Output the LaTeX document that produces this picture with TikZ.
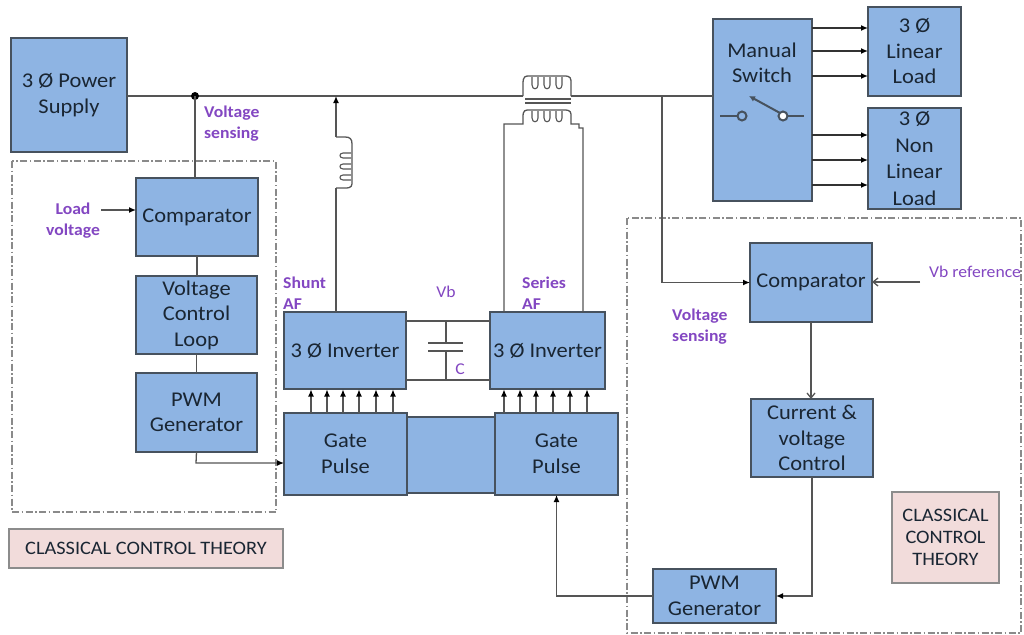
\documentclass[tikz,border=0pt]{standalone}
\usepackage{fontspec}
\setmainfont{Carlito}
\newfontfamily\myfam[FakeStretch=1.07]{Carlito}
\usetikzlibrary{arrows.meta}
\definecolor{blu}{HTML}{8EB4E3}
\definecolor{bordc}{HTML}{47525E}
\definecolor{txtc}{HTML}{1A2633}
\definecolor{linec}{HTML}{555555}
\definecolor{purp}{HTML}{8347C2}
\definecolor{pinkf}{HTML}{F2DCDB}
\definecolor{pinkb}{HTML}{8C8C8C}
\definecolor{dashc}{HTML}{8A8A8A}
\newcommand\bfnt{\myfam\fontsize{21}{25.5}\selectfont}
\newcommand\lfnt{\myfam\fontsize{16.5}{21}\selectfont}
\newcommand\cfnt{\myfam\fontsize{19}{22}\selectfont}
\begin{document}
\begin{tikzpicture}[x=1pt,y=-1pt,
  bb/.style n args={4}{at={(#1,#2)}, anchor=north west, minimum width=#3pt, minimum height=#4pt},
  blk/.style={draw=bordc, fill=blu, line width=1.2pt, inner sep=0pt, outer sep=0pt, align=center, text=txtc, font=\bfnt},
  cct/.style={draw=pinkb, fill=pinkf, line width=1.2pt, inner sep=0pt, outer sep=0pt, align=center, text=txtc, font=\cfnt},
  wire/.style={draw=linec, line width=1.3pt},
  arr/.style={wire, -{Latex[length=7pt,width=6pt,color=black]}},
  lbl/.style={text=purp, font=\lfnt\bfseries, inner sep=0pt, align=left},
  lblr/.style={text=purp, font=\lfnt, inner sep=0pt, align=left},
  dd/.style={draw=dashc, line width=1.1pt, dash pattern=on 7pt off 2.5pt on 1.5pt off 2.5pt}
]
\useasboundingbox (0,0) rectangle (1024,634);
\fill[white] (0,0) rectangle (1024,634);

% dash-dot regions
\draw[dd] (12,161) rectangle (276,512);
\draw[dd] (627,218) rectangle (1021,633);

% boxes
\node[blk, bb={11}{38}{116}{114}] (ps) {3 Ø Power\\Supply};
\node[blk, bb={136}{178}{122}{78}] (cmpL) {Comparator};
\node[blk, bb={136}{276}{121}{78}] (vcl) {Voltage\\Control\\Loop};
\node[blk, bb={136}{373}{121}{79}] (pwmL) {PWM\\Generator};
\node[blk, bb={284}{312}{122}{77}] (invS) {3 Ø Inverter};
\node[blk, bb={490}{312}{115}{77}] (invR) {3 Ø Inverter};
\node[blk, bb={407}{417}{88}{76}] (mid) {};
\node[blk, bb={284}{413}{123}{82}] (gpL) {Gate\\Pulse};
\node[blk, bb={495}{413}{123}{82}] (gpR) {Gate\\Pulse};
\node[blk, bb={713}{19}{99}{182}] (sw) {};
\node[text=txtc, font=\bfnt, align=center, inner sep=0pt] (swt) at (762,63) {Manual\\Switch};
\node[blk, bb={868}{7}{93}{89}] (lin) {3 Ø\\Linear\\Load};
\node[blk, bb={868}{108}{93}{101}, font=\bfnt\linespread{1.04}\selectfont] (nlin) {3 Ø\\Non\\Linear\\Load};
\node[blk, bb={750}{243}{122}{79}] (cmpR) {Comparator};
\node[blk, bb={751}{399}{122}{78}] (cvc) {Current \&\\voltage\\Control};
\node[blk, bb={653}{569}{123}{54}] (pwmR) {PWM\\Generator};
\node[cct, bb={892}{492}{107}{91}] (cctR) {CLASSICAL\\CONTROL\\THEORY};
\node[cct, bb={9}{529}{274}{39}] (cctL) {CLASSICAL CONTROL THEORY};

% main line
\coordinate (dot) at (195,96);
\coordinate (shj) at (336,96);
\coordinate (tl) at (503,96);
\coordinate (tr) at (592,96);
\coordinate (tap) at (662,96);
\coordinate (swin) at (713,96);
\draw[wire] (ps.east |- dot) -- (dot) -- (tl) -- (523,96);
\draw[wire] (571,96) -- (tr) -- (tap) -- (swin);
\fill[black] (dot) circle (4pt);

% transformer primary
\draw[wire] (523,96) -- (523,84) .. controls (523,76) and (525,76) .. (530,76) -- (564,76) .. controls (571,76) and (571,78) .. (571,84) -- (571,96);
\foreach \xx in {532,544,556}{
  \draw[linec, line width=1.1pt] (\xx,77) -- (\xx,85) .. controls (\xx,90) and (\xx+6,90) .. (\xx+6,85) -- (\xx+6,77);
}
\draw[wire] (525,99) -- (571,99);
\draw[wire] (525,103) -- (571,103);
% transformer secondary
\draw[wire] (504,312) -- (504,124) -- (523,124) -- (523,117) .. controls (523,110) and (525,110) .. (530,110) -- (564,110) .. controls (571,110) and (571,112) .. (571,117) -- (571,124) -- (579,124) -- (579,128) -- (583,128) -- (583,312);
\foreach \xx in {532,544,556}{
  \draw[linec, line width=1.1pt] (\xx,111) -- (\xx,118) .. controls (\xx,123) and (\xx+6,123) .. (\xx+6,118) -- (\xx+6,111);
}

% shunt inductor + arrow
\draw[wire] (336,312) -- (336,188);
\draw[wire] (336,188) -- (345,188) .. controls (352,188) and (352,186) .. (352,181) -- (352,144) .. controls (352,139) and (350,137) .. (345,137) -- (336,137);
\foreach \yy in {153,164,175}{
  \draw[linec, line width=1.1pt] (351,\yy) -- (343,\yy) .. controls (339,\yy) and (339,\yy+5) .. (343,\yy+5) -- (351,\yy+5);
}
\draw[arr] (336,137) -- (shj);

% left control chain
\draw[wire] (dot) -- (dot |- cmpL.north);
\draw[wire] (cmpL.south) -- (cmpL.south |- vcl.north);
\draw[wire] (vcl.south) -- (vcl.south |- pwmL.north);
\coordinate (pl1) at (196,463);
\draw[arr] (pwmL.south) -- (pl1) -- (gpL.west |- pl1);
\coordinate (lv) at (101,210);
\draw[arr] (lv) -- (cmpL.west |- lv);

% gate arrows
\foreach \xx in {311,327,343,359,376,393}{
  \draw[arr, line width=1.1pt] (\xx,413) -- (\xx,389.5);
}
\foreach \xx in {504,520,536,553,570,587}{
  \draw[arr, line width=1.1pt] (\xx,413) -- (\xx,389.5);
}

% DC link capacitor
\draw[wire] (invS.east |- 0,321) -- (invR.west |- 0,321);
\draw[wire] (invS.east |- 0,380) -- (invR.west |- 0,380);
\draw[wire] (446,321) -- (446,343);
\draw[wire] (446,351) -- (446,380);
\draw[linec, line width=2pt] (428,343) -- (463,343);
\draw[linec, line width=2pt] (428,351) -- (463,351);

% manual switch symbol
\draw[bordc, line width=2pt] (720,116) -- (737.5,116);
\draw[bordc, line width=2pt, fill=blu] (742,116) circle (4.5pt);
\draw[bordc, line width=2pt] (787.5,116) -- (804,116);
\draw[bordc, line width=2pt, -{Latex[length=6pt,width=6pt]}] (780,113) -- (749,96);
\draw[bordc, line width=2pt, fill=white] (783,116) circle (4.5pt);

% switch to loads
\foreach \yy in {28,51,76}{
  \draw[arr, draw=black!80] (sw.east |- 0,\yy) -- (lin.west |- 0,\yy);
}
\foreach \yy in {135,160,185}{
  \draw[arr, draw=black!80] (sw.east |- 0,\yy) -- (nlin.west |- 0,\yy);
}

% right control chain
\draw[arr] (tap) -- (tap |- cmpR.west) -- (cmpR.west);
\coordinate (vbr) at (920,282);
\draw[wire, -{Straight Barb[length=5pt,width=8pt]}] (vbr) -- (cmpR.east |- vbr);
\draw[wire, -{Straight Barb[length=5pt,width=8pt]}] (cmpR.south) -- (cmpR.south |- cvc.north);
\draw[arr] (cvc.south) |- (pwmR.east);
\draw[arr] (pwmR.west) -| (gpR.south);

% labels
\node[lbl, anchor=west] (vs1) at (204,124) {Voltage\\sensing};
\node[lbl, align=center] (ldv) at (73,221) {Load\\voltage};
\node[lbl, anchor=west] (sha) at (283,293) {Shunt\\AF};
\node[lbl, anchor=west] (sea) at (522,293) {Series\\AF};
\node[lblr] (vb) at (446,292) {Vb};
\node[lblr] (cl) at (460,369) {C};
\node[lblr, anchor=west] (vbref) at (929,272) {Vb reference};
\node[lbl, anchor=west] (vs2) at (672,327) {Voltage\\sensing};
\end{tikzpicture}
\end{document}
